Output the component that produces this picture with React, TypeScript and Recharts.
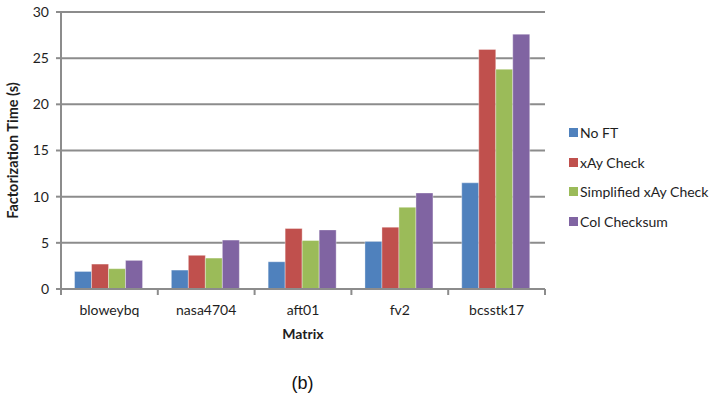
import React from "react";
import {
  BarChart,
  Bar,
  XAxis,
  YAxis,
  CartesianGrid,
  Label,
} from "recharts";

const matrices = ["bloweybq", "nasa4704", "aft01", "fv2", "bcsstk17"];
const noFt = [1.9, 2.05, 2.95, 5.15, 11.5];
const xayCheck = [2.7, 3.65, 6.55, 6.7, 25.95];
const simplifiedXay = [2.2, 3.35, 5.25, 8.85, 23.8];
const colChecksum = [3.1, 5.3, 6.4, 10.4, 27.6];
const yTicks = [0, 5, 10, 15, 20, 25, 30];

const SERIES = [
  { key: "noFt", name: "No FT", color: "#4F81BD", values: noFt },
  { key: "xay", name: "xAy Check", color: "#C0504D", values: xayCheck },
  { key: "simp", name: "Simplified xAy Check", color: "#9BBB59", values: simplifiedXay },
  { key: "col", name: "Col Checksum", color: "#8064A2", values: colChecksum },
];

const data = matrices.map((m, i) => {
  const row: Record<string, string | number> = { matrix: m };
  SERIES.forEach((s) => (row[s.key] = s.values[i]));
  return row;
});

const FONT = "Lato, 'Open Sans', sans-serif";
const GRID = "#8c8c8c";
const TEXT = "#1e1e1e";

const W = 726;
const H = 345;
const M = { top: 12, right: 181, left: 0, bottom: 6 };
const Y_W = 61;
const BAND = (W - M.right - M.left - Y_W) / matrices.length;

function CategoryTick(props: any) {
  const { x, y, index, payload } = props;
  const axisY = y - 8;
  const last = index === matrices.length - 1;
  return (
    <g>
      <line x1={x - BAND / 2} x2={x - BAND / 2} y1={axisY} y2={axisY + 6} stroke={GRID} strokeWidth={2} />
      {last && (
        <line x1={x + BAND / 2} x2={x + BAND / 2} y1={axisY} y2={axisY + 6} stroke={GRID} strokeWidth={2} />
      )}
      <text x={x} y={axisY + 26} textAnchor="middle" fill={TEXT} fontSize={14} fontFamily={FONT}>
        {payload.value}
      </text>
    </g>
  );
}

function LegendBox() {
  return (
    <div
      style={{
        position: "absolute",
        left: 569,
        top: 118,
        fontFamily: FONT,
        fontSize: 14,
        color: TEXT,
      }}
    >
      {SERIES.map((s) => (
        <div key={s.key} style={{ display: "flex", alignItems: "center", height: 29.5 }}>
          <span style={{ width: 9, height: 9, background: s.color, marginRight: 2, display: "inline-block" }} />
          <span>{s.name}</span>
        </div>
      ))}
    </div>
  );
}

export default function App() {
  return (
    <div style={{ position: "absolute", left: 0, top: 0, width: 726, height: 405, background: "#fff" }}>
      <BarChart
        width={W}
        height={H}
        data={data}
        margin={M}
        barCategoryGap="14%"
        barGap={0}
      >
        <CartesianGrid vertical={false} stroke={GRID} strokeWidth={2} />
        <XAxis
          dataKey="matrix"
          height={50}
          axisLine={{ stroke: GRID, strokeWidth: 2 }}
          tickLine={false}
          tick={<CategoryTick />}
          interval={0}
        >
          <Label
            value="Matrix"
            position="insideBottom"
            offset={0}
            fill={TEXT}
            fontSize={14}
            fontWeight="bold"
            fontFamily={FONT}
          />
        </XAxis>
        <YAxis
          width={Y_W}
          domain={[0, 30]}
          ticks={yTicks}
          interval={0}
          axisLine={{ stroke: GRID, strokeWidth: 2 }}
          tickLine={{ stroke: GRID, strokeWidth: 2 }}
          tickSize={5}
          tickMargin={7}
          tick={{ fill: TEXT, fontSize: 14, fontFamily: FONT }}
        >
          <Label
            value="Factorization Time (s)"
            angle={-90}
            position="insideLeft"
            offset={13}
            textAnchor="middle"
            fill={TEXT}
            fontSize={14.5}
            fontWeight="bold"
            fontFamily={FONT}
          />
        </YAxis>
        {SERIES.map((s) => (
          <Bar
            key={s.key}
            dataKey={s.key}
            name={s.name}
            fill={s.color}
            stroke="rgba(255,255,255,0.5)"
            strokeWidth={0.7}
            isAnimationActive={false}
          />
        ))}
      </BarChart>
      <LegendBox />
      <div
        style={{
          position: "absolute",
          left: 0,
          width: 605,
          top: 373,
          textAlign: "center",
          fontFamily: "'Liberation Sans', Arial, sans-serif",
          fontSize: 18,
          color: "#111",
        }}
      >
        (b)
      </div>
    </div>
  );
}
